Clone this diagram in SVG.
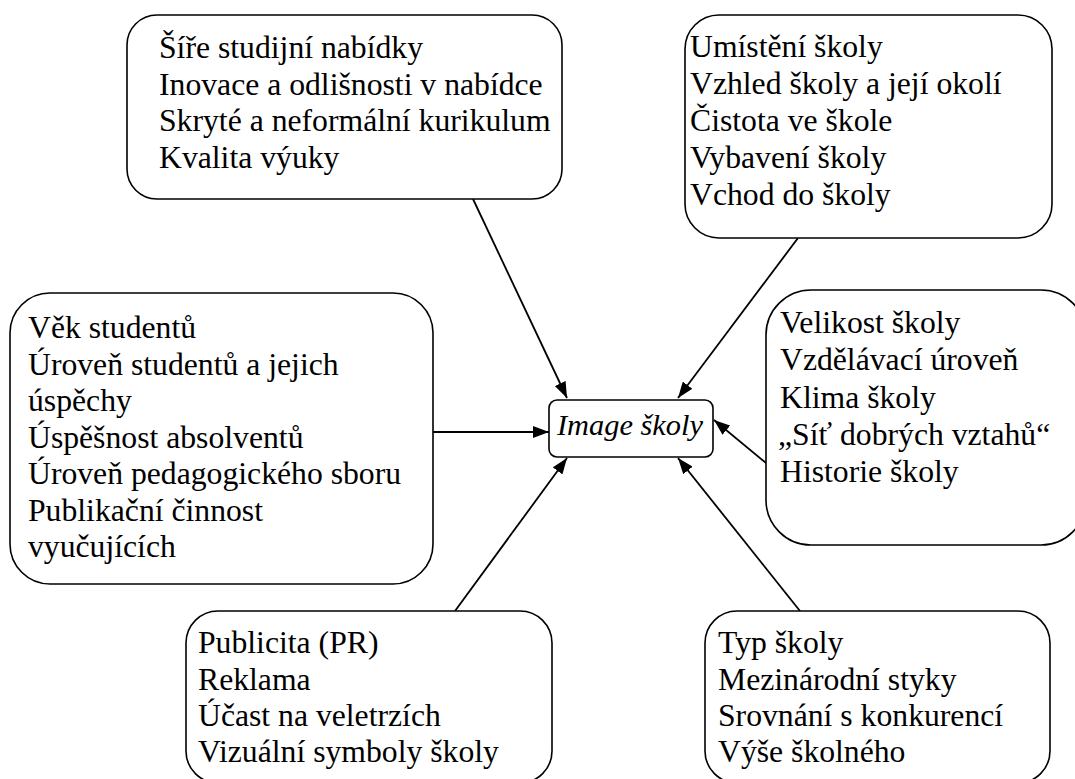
<svg xmlns="http://www.w3.org/2000/svg" width="1075" height="779" viewBox="0 0 1075 779">
<defs>
<style>
.box{fill:#fff;stroke:#000;stroke-width:1.6}
.t{font-family:'Liberation Serif','Times New Roman','DejaVu Serif',serif;font-size:31.7px;fill:#000}
.c{stroke:#000;stroke-width:1.8;fill:none;marker-end:url(#ah)}
</style>
<marker id="ah" viewBox="0 0 16 12" refX="16" refY="6" markerWidth="16" markerHeight="12" markerUnits="userSpaceOnUse" orient="auto">
<path d="M0,0 L16,6 L0,12 z" fill="#000"/>
</marker>
</defs>
<rect width="1075" height="779" fill="#fff"/>
<g id="connectors">
<line class="c" x1="473" y1="199" x2="567" y2="398"/>
<line class="c" x1="798" y1="238" x2="678" y2="398"/>
<line class="c" x1="766" y1="463" x2="714" y2="420"/>
<line class="c" x1="433" y1="432" x2="549" y2="432"/>
<line class="c" x1="455" y1="611" x2="567" y2="458"/>
<line class="c" x1="800" y1="611" x2="678" y2="458"/>
</g>
<g font-family="Liberation Serif, serif">
<g id="node-top-left">
<rect class="box" x="127" y="15" width="435" height="184" rx="30"/>
<text class="t" x="159" y="58">Šíře studijní nabídky</text>
<text class="t" x="159" y="94.5">Inovace a odlišnosti v nabídce</text>
<text class="t" x="159" y="131">Skryté a neformální kurikulum</text>
<text class="t" x="159" y="167.5">Kvalita výuky</text>
</g>
<g id="node-top-right">
<rect class="box" x="685" y="15" width="367" height="223" rx="34"/>
<text class="t" x="690" y="57">Umístění školy</text>
<text class="t" x="690" y="94">Vzhled školy a její okolí</text>
<text class="t" x="690" y="131">Čistota ve škole</text>
<text class="t" x="690" y="168">Vybavení školy</text>
<text class="t" x="690" y="205">Vchod do školy</text>
</g>
<g id="node-left">
<rect class="box" x="10" y="293" width="423" height="291" rx="40"/>
<text class="t" x="28" y="338">Věk studentů</text>
<text class="t" x="28" y="374.5">Úroveň studentů a jejich</text>
<text class="t" x="28" y="411">úspěchy</text>
<text class="t" x="28" y="447.5">Úspěšnost absolventů</text>
<text class="t" x="28" y="484">Úroveň pedagogického sboru</text>
<text class="t" x="28" y="520.5">Publikační činnost</text>
<text class="t" x="28" y="557">vyučujících</text>
</g>
<g id="node-center">
<rect class="box" x="549" y="400" width="164" height="57" rx="8"/>
<text class="t" x="557" y="435" font-style="italic" style="font-size:30.4px">Image školy</text>
</g>
<g id="node-right">
<rect class="box" x="766" y="290" width="320" height="255" rx="45"/>
<text class="t" x="780" y="333">Velikost školy</text>
<text class="t" x="780" y="370">Vzdělávací úroveň</text>
<text class="t" x="780" y="407.5">Klima školy</text>
<text class="t" x="778" y="445">„Síť dobrých vztahů“</text>
<text class="t" x="780" y="482">Historie školy</text>
</g>
<g id="node-bottom-left">
<rect class="box" x="186" y="611" width="366" height="172" rx="32"/>
<text class="t" x="198" y="653">Publicita (PR)</text>
<text class="t" x="198" y="689.5">Reklama</text>
<text class="t" x="198" y="726">Účast na veletrzích</text>
<text class="t" x="198" y="762">Vizuální symboly školy</text>
</g>
<g id="node-bottom-right">
<rect class="box" x="705" y="611" width="345" height="172" rx="32"/>
<text class="t" x="718" y="653">Typ školy</text>
<text class="t" x="718" y="689.5">Mezinárodní styky</text>
<text class="t" x="718" y="726">Srovnání s konkurencí</text>
<text class="t" x="718" y="762">Výše školného</text>
</g>
</g>
</svg>
